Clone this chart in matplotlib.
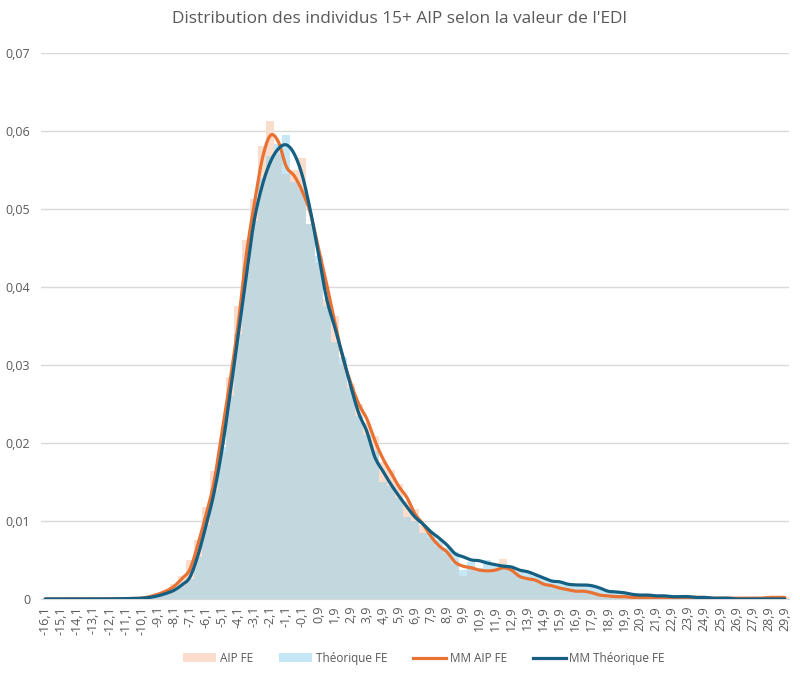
import numpy as np
import matplotlib
matplotlib.use("Agg")
import matplotlib.pyplot as plt
from matplotlib.patches import Patch
from matplotlib.lines import Line2D

plt.rcParams['font.family'] = ['Open Sans', 'DejaVu Sans']

# EDI value classes, step 0.5 from -16.1 to 29.9
edi = [round(-16.1 + 0.5 * i, 1) for i in range(93)]

# bars: AIP FE
aip_fe = [
    0, 0, 0, 0, 0, 0, 0, 0, 0.00002, 0.00003,
    0.00005, 0.00008, 0.0001, 0.0003, 0.0007, 0.0012, 0.0019, 0.0030, 0.0050, 0.0075,
    0.0118, 0.0164, 0.0188, 0.0285, 0.0375, 0.0460, 0.0513, 0.0580, 0.0612, 0.0570,
    0.0545, 0.0550, 0.0565, 0.0480, 0.0430, 0.0385, 0.0363, 0.0300, 0.0275, 0.0250,
    0.0225, 0.0209, 0.0175, 0.0165, 0.0148, 0.0125, 0.0115, 0.0095, 0.0078, 0.0066,
    0.0058, 0.0045, 0.0030, 0.0042, 0.0035, 0.0033, 0.0038, 0.0051, 0.0038, 0.0030,
    0.0025, 0.0024, 0.0018, 0.0017, 0.0013, 0.0012, 0.0010, 0.0009, 0.0008, 0.0005,
    0.0004, 0.0003, 0.0003, 0.0002, 0.0002, 0.0002, 0.0001, 0.0001, 0.0001, 0.0002,
    0.0002, 0.0002, 0.0002, 0.0001, 0.0001, 0.0001, 0.0001, 0.0001, 0.0001, 0.0001,
    0.0002, 0.0002, 0.0002,
]

# bars: Theorique FE
theo_fe = [
    0, 0, 0, 0, 0, 0, 0, 0, 0.00001, 0.00002,
    0.00004, 0.00006, 0.0001, 0.0002, 0.0004, 0.0007, 0.0011, 0.0018, 0.0025, 0.0054,
    0.0095, 0.0140, 0.0195, 0.0260, 0.0340, 0.0425, 0.0485, 0.0540, 0.0568, 0.0583,
    0.0595, 0.0535, 0.0526, 0.0480, 0.0440, 0.0375, 0.0330, 0.0310, 0.0270, 0.0235,
    0.0210, 0.0190, 0.0150, 0.0145, 0.0130, 0.0105, 0.0100, 0.0085, 0.0085, 0.0075,
    0.0065, 0.0060, 0.0037, 0.0048, 0.0040, 0.0050, 0.0045, 0.0045, 0.0040, 0.0035,
    0.0036, 0.0030, 0.0027, 0.0022, 0.0023, 0.0018, 0.0018, 0.0019, 0.0017, 0.0013,
    0.0010, 0.0009, 0.0008, 0.0006, 0.0005, 0.0005, 0.0004, 0.0004, 0.0003, 0.0003,
    0.0003, 0.0002, 0.0002, 0.0001, 0.0001, 0.0001, 0.0, 0.0, 0.0, 0.0,
    0.0, 0.0, 0.0,
]

# moving averages
mm_aip = [
    0, 0, 0, 0, 0, 0, 0, 0, 0.00002, 0.00003,
    0.00005, 0.00007, 0.0001, 0.0003, 0.0006, 0.0010, 0.0016, 0.0026, 0.0038, 0.0070,
    0.0108, 0.0150, 0.0215, 0.0280, 0.0352, 0.0440, 0.0506, 0.0564, 0.0594, 0.0586,
    0.0554, 0.0542, 0.0522, 0.0494, 0.0449, 0.0404, 0.0356, 0.0310, 0.0277, 0.0250,
    0.0231, 0.0203, 0.0180, 0.0162, 0.0144, 0.0130, 0.0109, 0.0096, 0.0080, 0.0068,
    0.0060, 0.0047, 0.0042, 0.0040, 0.0037, 0.0036, 0.0037, 0.0040, 0.0037, 0.0029,
    0.0026, 0.0024, 0.0019, 0.0017, 0.0014, 0.0012, 0.0010, 0.0010, 0.0008, 0.0005,
    0.0004, 0.0003, 0.0003, 0.0002, 0.0002, 0.0002, 0.0001, 0.0001, 0.0001, 0.0002,
    0.0002, 0.0002, 0.0002, 0.0001, 0.0001, 0.0001, 0.0001, 0.0001, 0.0001, 0.0001,
    0.0002, 0.0002, 0.0002,
]

mm_theo = [
    0, 0, 0, 0, 0, 0, 0, 0, 0.00001, 0.00002,
    0.00004, 0.00006, 0.0001, 0.0002, 0.0004, 0.0007, 0.0011, 0.0018, 0.0028, 0.0056,
    0.0094, 0.0136, 0.0192, 0.0263, 0.0338, 0.0414, 0.0485, 0.0530, 0.0560, 0.0577,
    0.0582, 0.0570, 0.0542, 0.0497, 0.0442, 0.0385, 0.0349, 0.0312, 0.0273, 0.0238,
    0.0215, 0.0182, 0.0164, 0.0147, 0.0132, 0.0118, 0.0105, 0.0096, 0.0086, 0.0078,
    0.0069, 0.0058, 0.0054, 0.0050, 0.0049, 0.0046, 0.0044, 0.0042, 0.0041, 0.0037,
    0.0035, 0.0031, 0.0027, 0.0023, 0.0022, 0.0019, 0.0018, 0.0018, 0.0017, 0.0014,
    0.0010, 0.0009, 0.0008, 0.0006, 0.0005, 0.0005, 0.0004, 0.0004, 0.0003, 0.0003,
    0.0003, 0.0002, 0.0002, 0.0001, 0.0001, 0.0001, 0.0, 0.0, 0.0, 0.0,
    0.0, 0.0, 0.0,
]

title = "Distribution des individus 15+ AIP selon la valeur de l'EDI"

orange_bar = "#FBDDCE"
blue_bar = (150 / 255, 213 / 255, 237 / 255, 0.55)
orange_line = "#E97132"
blue_line = "#156082"
grey_txt = "#595959"


def smooth(x, y, n=8):
    # Catmull-Rom spline through the points, like Excel's smoothed line
    x = np.asarray(x, float)
    y = np.asarray(y, float)
    xp = np.concatenate([[2 * x[0] - x[1]], x, [2 * x[-1] - x[-2]]])
    yp = np.concatenate([[y[0]], y, [y[-1]]])
    t = np.linspace(0, 1, n, endpoint=False)
    xs, ys = [], []
    for i in range(1, len(xp) - 2):
        for arr, out in ((xp, xs), (yp, ys)):
            p0, p1, p2, p3 = arr[i - 1], arr[i], arr[i + 1], arr[i + 2]
            out.extend(0.5 * (2 * p1 + (-p0 + p2) * t
                              + (2 * p0 - 5 * p1 + 4 * p2 - p3) * t ** 2
                              + (-p0 + 3 * p1 - 3 * p2 + p3) * t ** 3))
    xs.append(x[-1])
    ys.append(y[-1])
    return np.array(xs), np.array(ys)


fig = plt.figure(figsize=(8, 6.73), dpi=100)
ax = fig.add_axes([0.0515, 0.1100, 0.9345, 0.8115])

ax.bar(edi, aip_fe, width=0.5, color=orange_bar, linewidth=0, zorder=2)
ax.bar(edi, theo_fe, width=0.5, color=blue_bar, linewidth=0, zorder=3)
sx, sy = smooth(edi, mm_aip)
ax.plot(sx, sy, color=orange_line, lw=2.3, zorder=4, solid_capstyle='round')
sx, sy = smooth(edi, mm_theo)
ax.plot(sx, sy, color=blue_line, lw=2.3, zorder=5, solid_capstyle='round')

ax.set_xlim(edi[0] - 0.25, edi[-1] + 0.25)
ax.set_ylim(0, 0.07)

yt = np.arange(0, 0.0701, 0.01)
ax.set_yticks(yt)
ax.set_yticklabels(["0"] + [f"{v:.2f}".replace(".", ",") for v in yt[1:]],
                   color=grey_txt, fontsize=9)
xt = edi[::2]
ax.set_xticks(xt)
ax.set_xticklabels([f"{v:.1f}".replace(".", ",") for v in xt],
                   rotation=90, color=grey_txt, fontsize=9)
ax.tick_params(axis='both', length=0)
ax.tick_params(axis='y', pad=8)
ax.tick_params(axis='x', pad=5)

ax.grid(axis='y', color="#D9D9D9", lw=1, zorder=0)
ax.set_axisbelow(True)
for s in ['top', 'right', 'left']:
    ax.spines[s].set_visible(False)
ax.spines['bottom'].set_color("#D9D9D9")

fig.suptitle(title, color=grey_txt, fontsize=12.4, x=0.5, y=0.972, va='center')

handles = [
    Patch(facecolor=orange_bar, edgecolor='none'),
    Patch(facecolor=blue_bar, edgecolor='none'),
    Line2D([0], [0], color=orange_line, lw=2.3),
    Line2D([0], [0], color=blue_line, lw=2.3),
]
labels = ["AIP FE", "Théorique FE", "MM AIP FE", "MM Théorique FE"]
fig.legend(handles, labels, loc='center', bbox_to_anchor=(0.53, 0.022), ncol=4,
           frameon=False, fontsize=8.5, labelcolor=grey_txt, handlelength=2.8,
           handletextpad=0.3, columnspacing=2.2)

fig.savefig("out.png", dpi=100)
